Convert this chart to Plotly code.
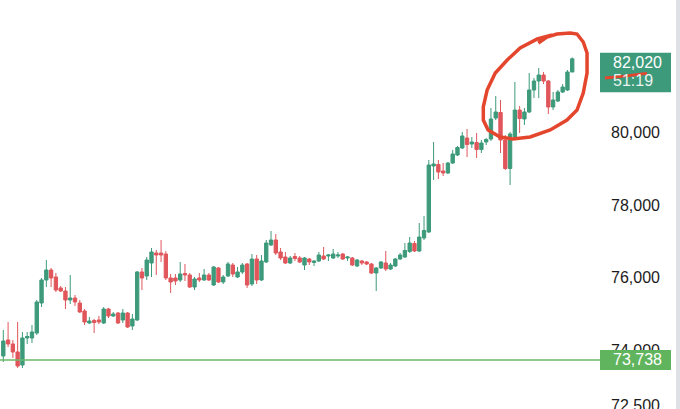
import plotly.graph_objects as go

# BTC candles (price axis on the right), one entry per candle
open_ = [73848, 74288, 74178, 73958, 73600, 74343, 74343, 74480, 75305, 75938,
         76213, 76020, 75718, 75635, 75388, 75443, 75305, 75085, 74755, 74824,
         74838, 74755, 75140, 74948, 75030, 74838, 75030, 74673, 74838, 76158,
         76048, 76405, 76680, 76680, 76653, 75993, 75993, 75938, 76117, 76075,
         75745, 75993, 75938, 76075, 75800, 76268, 75883, 76048, 76350, 76020,
         76158, 76378, 75828, 76515, 75938, 76433, 76900, 77038, 76708, 76570,
         76405, 76584, 76543, 76350, 76515, 76419, 76460, 76598, 76598, 76543,
         76598, 76653, 76543, 76543, 76323, 76460, 76433, 76378, 76130, 76268,
         76405, 76240, 76323, 76515, 76570, 76722, 76942, 76735, 77093, 77258,
         79073, 79114, 78935, 78880, 79155, 79375, 79568, 79843, 79678, 79719,
         79527, 79733, 79815, 80393, 80544, 79788, 79004, 79870, 80613, 80365,
         80558, 81163, 81410, 81575, 81410, 80695, 80860, 81108, 81163, 81658]
high = [74563, 74783, 74288, 74783, 74508, 74508, 74700, 75388, 75993, 76488,
        76268, 76130, 75773, 75745, 76075, 75525, 75388, 75140, 74920, 74865,
        74948, 75195, 75168, 75058, 75058, 75140, 75058, 75003, 76185, 76268,
        76570, 76818, 76763, 77038, 76735, 76103, 76103, 76433, 76378, 76130,
        76020, 76130, 76240, 76130, 76323, 76295, 76075, 76433, 76405, 76295,
        76405, 76405, 76653, 76625, 76625, 77038, 77285, 77203, 76818, 76708,
        76598, 76680, 76598, 76570, 76543, 76488, 76708, 76845, 76653, 76790,
        76708, 76680, 76598, 76570, 76515, 76488, 76460, 76405, 76295, 76460,
        76735, 76405, 76543, 76680, 76955, 77120, 77010, 77505, 77698, 79238,
        79733, 79238, 79155, 79183, 79513, 79623, 80008, 80090, 79870, 79980,
        79788, 79843, 80668, 80998, 80888, 79925, 80008, 81383, 80723, 80668,
        81630, 81493, 81768, 81658, 81438, 81108, 81163, 81328, 81713, 82060]
low = [73683, 74095, 73793, 73518, 73518, 74178, 74205, 74425, 75195, 75745,
       75745, 75608, 75608, 75140, 75278, 75223, 75030, 74700, 74728, 74480,
       74728, 74728, 74893, 74920, 74728, 74755, 74618, 74563, 74810, 75663,
       75938, 76020, 76075, 76433, 75938, 75580, 75800, 75883, 75910, 75718,
       75663, 75883, 75910, 75910, 75773, 75855, 75828, 76020, 76020, 75993,
       76103, 75718, 75773, 75828, 75910, 76405, 76873, 76625, 76488, 76378,
       76378, 76460, 76405, 76213, 76350, 76323, 76433, 76488, 76460, 76515,
       76543, 76488, 76460, 76323, 76295, 76350, 76350, 76103, 75635, 76240,
       76185, 76213, 76295, 76488, 76543, 76680, 76708, 76708, 77038, 77230,
       78688, 78715, 78798, 78853, 79128, 79348, 79540, 79320, 79568, 79293,
       79430, 79650, 79760, 80338, 79430, 78963, 78550, 79843, 79980, 80200,
       80530, 80943, 80943, 81328, 80503, 80613, 80833, 81080, 81135, 81658]
close = [74260, 74178, 73958, 73573, 74343, 74384, 74508, 75333, 75938, 76213,
         75993, 75663, 75635, 75388, 75443, 75333, 75058, 74783, 74810, 74769,
         74783, 75140, 74948, 75003, 74755, 75030, 74645, 74865, 76158, 75993,
         76488, 76708, 76625, 76625, 75993, 75883, 75910, 76103, 76075, 75745,
         75965, 75938, 76075, 75938, 76295, 75883, 76020, 76378, 76103, 76158,
         76350, 75800, 76515, 75938, 76460, 76955, 77038, 76680, 76543, 76405,
         76543, 76529, 76433, 76543, 76433, 76460, 76625, 76515, 76625, 76653,
         76625, 76515, 76570, 76350, 76488, 76405, 76378, 76130, 76268, 76433,
         76240, 76350, 76515, 76625, 76749, 76955, 76735, 77120, 77299, 79100,
         79128, 78908, 78880, 79155, 79403, 79582, 79898, 79664, 79733, 79527,
         79705, 79802, 80365, 80558, 79788, 79004, 79953, 80613, 80379, 80558,
         81163, 81410, 81575, 81410, 80695, 80888, 81108, 81245, 81658, 82020]

tick_vals = [72500, 74000, 76000, 78000, 80000]
tick_text = ["72,500", "74,000", "76,000", "78,000", "80,000"]

last_price = 82020
countdown = "51:19"
support_price = 73738

# hand-drawn red ring around the last candles: (candle index, price)
ring_x = [111.9, 113.7, 115.8, 118.6, 120.0, 121.3, 122.1, 122.1, 121.3, 120.0,
          117.9, 114.4, 110.2, 106.6, 103.9, 101.4, 100.4, 100.4, 101.2, 102.9,
          105.4, 108.1, 111.7, 114.8]
ring_y = [82456, 82621, 82703, 82731, 82703, 82483, 82181, 81631, 81081, 80613,
          80338, 80063, 79871, 79816, 79871, 80063, 80338, 80696, 81163, 81631,
          81988, 82318, 82566, 82676]

up = "#3d9a7b"
down = "#e0565b"
ink = "#e4462d"
W = 610  # plot width in px

idx = list(range(len(close)))

fig = go.Figure(go.Candlestick(
    x=idx, open=open_, high=high, low=low, close=close,
    increasing=dict(line=dict(color=up, width=1), fillcolor=up),
    decreasing=dict(line=dict(color=down, width=1), fillcolor=down),
    whiskerwidth=0, hoverinfo="skip",
))

ring_path = "M " + " L ".join(f"{x},{y}" for x, y in zip(ring_x, ring_y))

fig.update_layout(
    width=680, height=409,
    margin=dict(l=0, r=70, t=0, b=0),
    paper_bgcolor="white", plot_bgcolor="white",
    showlegend=False,
    boxgap=0.3, boxgroupgap=0,
    xaxis=dict(range=[-0.69, 126.9], visible=False, rangeslider=dict(visible=False)),
    yaxis=dict(range=[72390, 83638], side="right", tickvals=tick_vals, ticktext=tick_text,
               showgrid=False, zeroline=False, showline=False, ticks="",
               ticklabelstandoff=0, ticklabeloverflow="allow", automargin=False,
               tickfont=dict(size=16, color="#1c1c1c", family="Liberation Sans, Arial")),
    shapes=[
        # support line and its label
        dict(type="line", xref="paper", x0=0, x1=600 / W, yref="y",
             y0=support_price, y1=support_price, line=dict(color="#6cb86a", width=1.5)),
        dict(type="rect", xref="paper", x0=600 / W, x1=671 / W, yref="y",
             ysizemode="pixel", yanchor=support_price, y0=-10, y1=10,
             fillcolor="#5fb45d", line=dict(width=0), layer="above"),
        # last price label
        dict(type="rect", xref="paper", x0=600 / W, x1=671 / W, yref="y",
             ysizemode="pixel", yanchor=last_price, y0=-33.5, y1=6,
             fillcolor="#3d9a7b", line=dict(width=0), layer="above"),
        # scribble over the label
        dict(type="path", xref="paper", yref="y",
             path=f"M {605 / W},81493 Q {625 / W},81540 {647 / W},81620",
             line=dict(color=ink, width=3), layer="above"),
        # red ring
        dict(type="path", xref="x", yref="y", path=ring_path,
             line=dict(color=ink, width=3.5), layer="above"),
        # grey screen edge
        dict(type="rect", xref="paper", x0=676 / W, x1=681 / W, yref="paper", y0=0, y1=1,
             fillcolor="#dfe1e6", line=dict(width=0)),
    ],
    annotations=[
        dict(text=f"{last_price:,}", xref="paper", x=611 / W, xanchor="left", yref="y",
             y=last_price, yshift=-4, showarrow=False,
             font=dict(size=16, color="white", family="Liberation Sans, Arial")),
        dict(text=countdown, xref="paper", x=611 / W, xanchor="left", yref="y",
             y=last_price, yshift=-21.5, showarrow=False,
             font=dict(size=16, color="#e8f3ef", family="Liberation Sans, Arial")),
        dict(text=f"{support_price:,}", xref="paper", x=611 / W, xanchor="left", yref="y",
             y=support_price, showarrow=False,
             font=dict(size=16, color="white", family="Liberation Sans, Arial")),
    ],
)

fig.write_html("out.html", config={"displayModeBar": False},
               post_script="document.body.style.margin = '0';")
